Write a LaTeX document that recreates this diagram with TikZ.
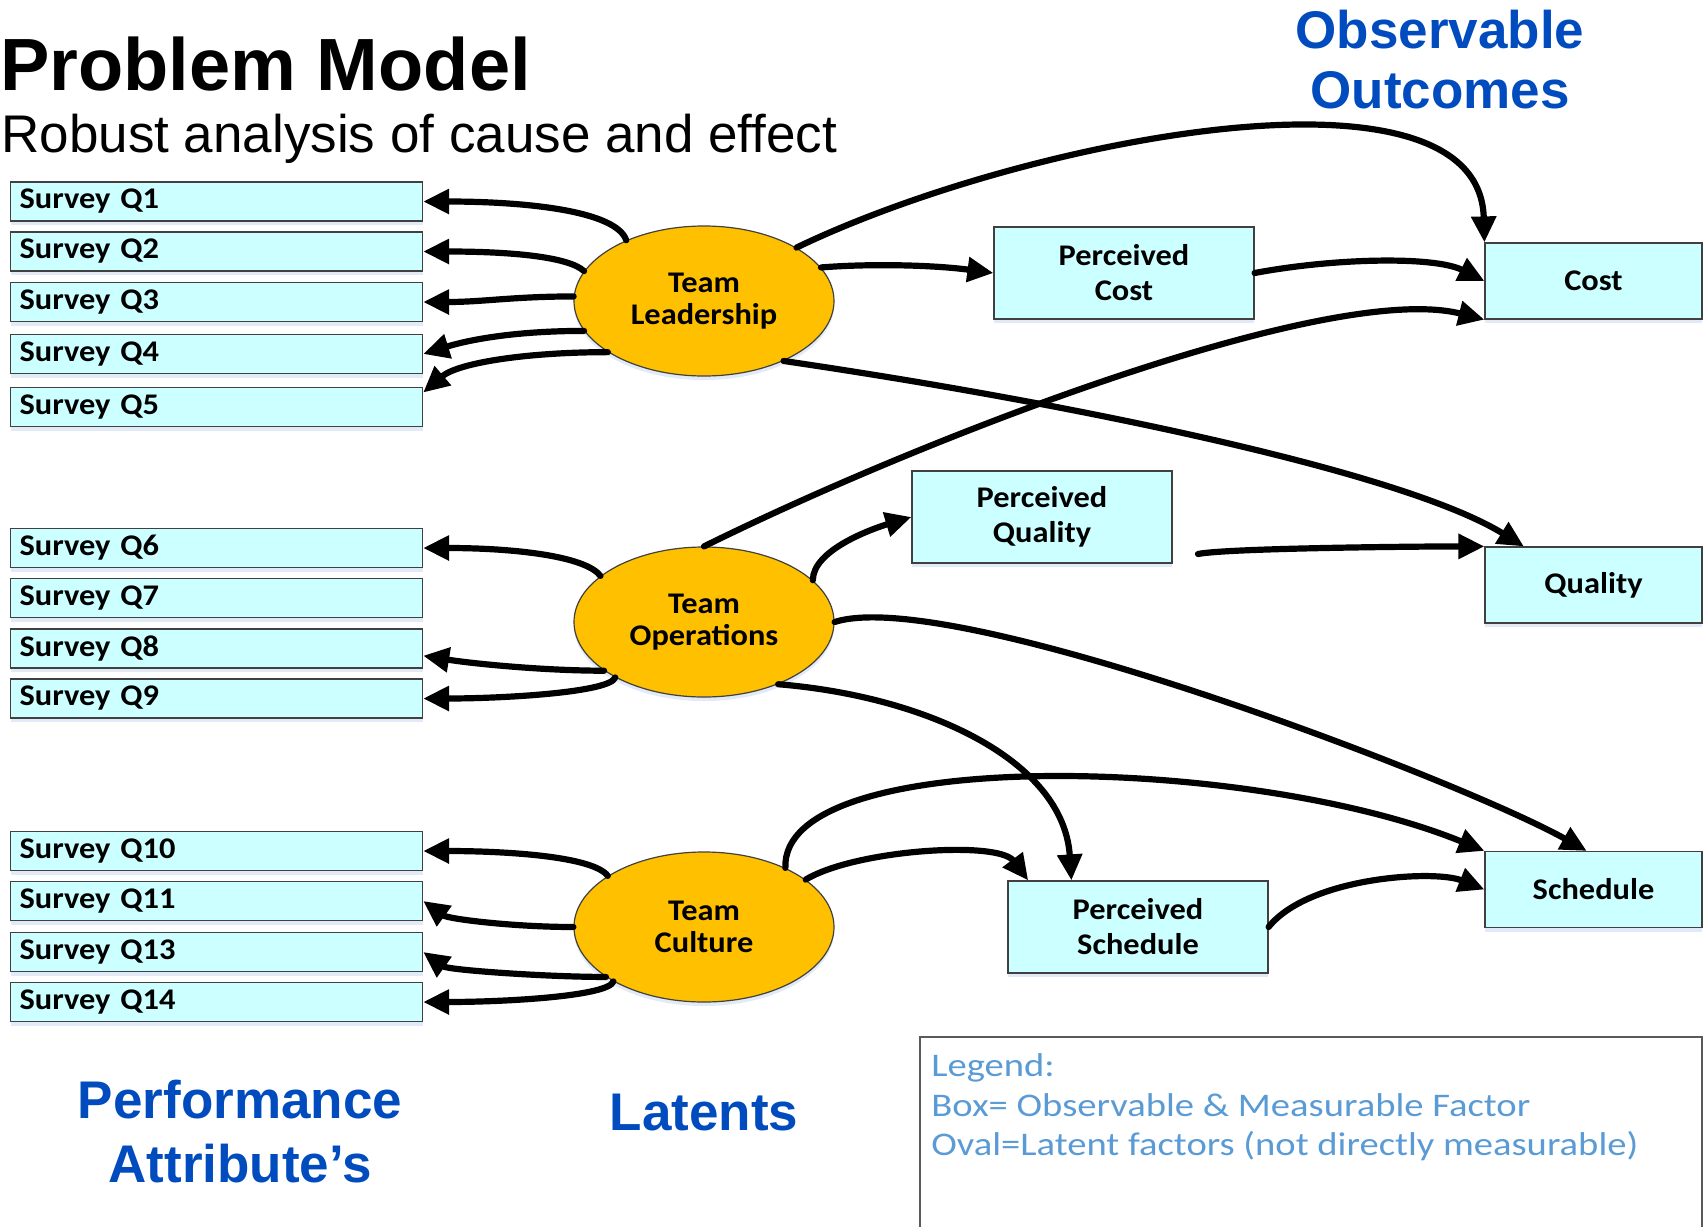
\documentclass[tikz,border=0pt]{standalone}
\usepackage{fontspec}
\setmainfont{Carlito}[FakeStretch=1.08]
\newfontfamily\headfont{Liberation Sans}
\newfontfamily\legendfont{Carlito}[FakeStretch=1.17]
\usetikzlibrary{arrows.meta,shapes.geometric,shadows}

\begin{document}
\begin{tikzpicture}[x=0.5pt,y=-0.5pt,
  boxshadow/.style={drop shadow={shadow xshift=0pt,shadow yshift=-2pt,fill=shadowColor,opacity=0.6}},
  survey/.style={rectangle,draw=drawColor,line width=0.6pt,fill=boxColor,boxshadow,anchor=west,
    minimum width=206pt,minimum height=19.5pt,text width=197pt,align=left,inner xsep=4.5pt,inner ysep=0pt,
    font=\fontsize{15}{17}\selectfont\bfseries},
  latent/.style={ellipse,draw=drawColor,line width=0.6pt,fill=latentColor,boxshadow,
    minimum width=130pt,minimum height=75pt,inner sep=0pt,align=center,
    font=\fontsize{15}{16}\selectfont\bfseries},
  outcome/.style={rectangle,draw=drawColor,line width=0.6pt,fill=boxColor,boxshadow,
    minimum width=108.5pt,minimum height=38pt,inner sep=0pt,align=center,
    font=\fontsize{15}{17.5}\selectfont\bfseries},
  perceived/.style={outcome,minimum width=130pt,minimum height=46pt},
  link/.style={draw=black,line width=3.1pt,line cap=round,-{Triangle[length=13pt,width=12pt]}},
  bluehead/.style={text=headColor,anchor=base,inner sep=0pt,font=\fontsize{26.5}{30}\selectfont\headfont\bfseries},
  legend/.style={text=legendColor,anchor=base west,inner sep=0pt,font=\fontsize{16.5}{20}\selectfont\legendfont}]
\definecolor{drawColor}{RGB}{64,64,64}
\definecolor{boxColor}{RGB}{204,255,255}
\definecolor{latentColor}{RGB}{255,192,0}
\definecolor{shadowColor}{RGB}{205,220,240}
\definecolor{headColor}{RGB}{0,76,190}
\definecolor{legendColor}{RGB}{91,155,213}
\definecolor{legendLine}{RGB}{90,90,90}
\useasboundingbox (0,0) rectangle (1704,1227);

\node[anchor=base west,inner sep=0pt,font=\fontsize{37}{40}\selectfont\headfont\bfseries] (title) at (0,90) {Problem Model};
\node[anchor=base west,inner sep=0pt,font=\fontsize{26.5}{30}\selectfont\headfont] (subtitle) at (1,152) {Robust analysis of cause and effect};
\node[bluehead] (obs1) at (1440,48) {Observable};
\node[bluehead] (obs2) at (1440,108) {Outcomes};

\node[survey] (q1) at (10,201.5) {Survey Q1};
\node[survey] (q2) at (10,251.5) {Survey Q2};
\node[survey] (q3) at (10,302) {Survey Q3};
\node[survey] (q4) at (10,354) {Survey Q4};
\node[survey] (q5) at (10,407) {Survey Q5};
\node[survey] (q6) at (10,548) {Survey Q6};
\node[survey] (q7) at (10,598) {Survey Q7};
\node[survey] (q8) at (10,648.5) {Survey Q8};
\node[survey] (q9) at (10,698.5) {Survey Q9};
\node[survey] (q10) at (10,851) {Survey Q10};
\node[survey] (q11) at (10,901) {Survey Q11};
\node[survey] (q13) at (10,952) {Survey Q13};
\node[survey] (q14) at (10,1002) {Survey Q14};

\node[latent] (tl) at (704,301) {Team\\Leadership};
\node[latent] (to) at (704,622) {Team\\Operations};
\node[latent] (tc) at (704,927) {Team\\Culture};

\node[perceived] (pcost) at (1124,273) {Perceived\\Cost};
\node[perceived] (pqual) at (1042,517) {Perceived\\Quality};
\node[perceived] (psched) at (1138,927) {Perceived\\Schedule};
\node[outcome] (cost) at (1593.5,281) {Cost};
\node[outcome] (quality) at (1593.5,585) {Quality};
\node[outcome] (sched) at (1593.5,889.5) {Schedule};
\coordinate (pqout) at (1198,554);

\draw[link] (tl.142) .. controls +(-10,-30) and +(100,0) .. (q1.east);
\draw[link] (tl.166) .. controls +(-15,-14) and +(90,0) .. (q2.east);
\draw[link] (tl.178) .. controls +(-60,0) and +(60,0) .. (q3.east);
\draw[link] (tl.194) .. controls +(-70,0) and +(45,-14) .. (q4.east);
\draw[link] (tl.208) .. controls +(-80,0) and +(35,-30) .. (q5.4);
\draw[link] (tl.30) .. controls +(224,-108) and +(-5,-193) .. (cost.north west);
\draw[link] (tl.16) .. controls +(50,-4) and +(-60,-8) .. (pcost.west);
\draw[link] (pcost.east) .. controls +(80,-15) and +(-50,-25) .. (cost.west);
\draw[link] (tl.323) .. controls +(267,39) and +(-125,-77) .. (quality.151);

\draw[link] (to.156) .. controls +(-15,-20) and +(90,0) .. (q6.east);
\draw[link] (to.206) .. controls +(-60,0) and +(50,8) .. (q8.358);
\draw[link] (to.212) .. controls +(-5,15) and +(80,0) .. (q9.east);
\draw[link] (to.90) .. controls +(216,-107) and +(-155,-39) .. (cost.south west);
\draw[link] (to.21) .. controls +(0,-30) and +(-40,12) .. (pqual.west);
\draw[link] (pqout) .. controls +(30,-6) and +(-60,0) .. (quality.north west);
\draw[link] (to.east) .. controls +(116,-37) and +(-127,-71) .. (sched.100);
\draw[link] (to.320) .. controls +(147,12) and +(-8,-121) .. (psched.145);

\draw[link] (tc.152) .. controls +(-15,-20) and +(80,0) .. (q10.east);
\draw[link] (tc.180) .. controls +(-60,0) and +(25,18) .. (q11.east);
\draw[link] (tc.207) .. controls +(-60,0) and +(25,18) .. (q13.east);
\draw[link] (tc.211) .. controls +(-5,15) and +(80,0) .. (q14.east);
\draw[link] (tc.36) .. controls +(-5,-123) and +(-235,-96) .. (sched.north west);
\draw[link] (tc.25) .. controls +(50,-30) and +(-30,-40) .. (psched.157);
\draw[link] (psched.east) .. controls +(40,-50) and +(-50,-20) .. (sched.west);

\node[bluehead] (perf1) at (240,1118) {Performance};
\node[bluehead] (perf2) at (240,1182) {Attribute’s};
\node[bluehead] (lat) at (704,1130) {Latents};

\path[draw=legendLine,line width=0.6pt] (920,1227) -- (920,1037) -- (1702,1037) -- (1702,1227);
\node[legend] (leg1) at (931,1076) {Legend:};
\node[legend] (leg2) at (931,1116) {Box= Observable \& Measurable Factor};
\node[legend] (leg3) at (931,1155) {Oval=Latent factors (not directly measurable)};
\end{tikzpicture}
\end{document}
